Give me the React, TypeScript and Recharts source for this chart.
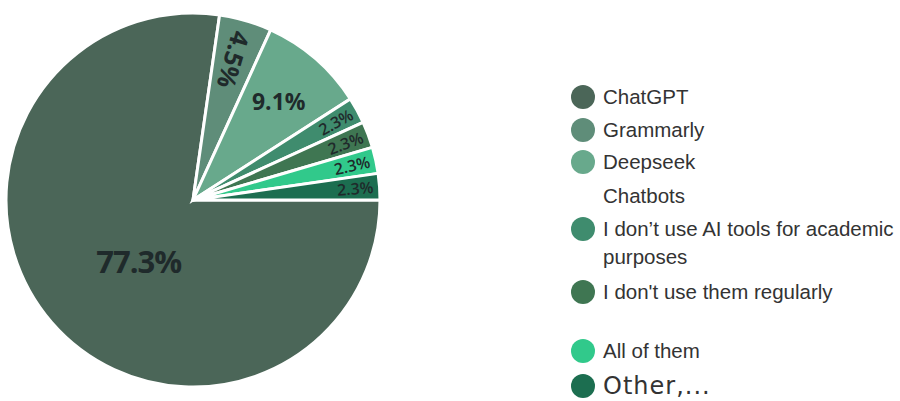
import React from 'react';
import { PieChart, Pie, Cell, Legend } from 'recharts';

const categories = [
  'ChatGPT',
  'Grammarly',
  'Deepseek',
  'Chatbots',
  'I don’t use AI tools for academic purposes',
  "I don't use them regularly",
  'All of them',
  'Other,...',
];
const counts = [34, 2, 4, 0, 1, 1, 1, 1];
const colors = ['#4b6658', '#5f8d79', '#68a98c', 'transparent', '#3f8c6e', '#3f7652', '#31c98b', '#1c6e50'];

const data = categories.map((name, i) => ({ name, value: counts[i] }));
const total = counts.reduce((a, b) => a + b, 0);

const RAD = Math.PI / 180;

const renderLabel = (props: any) => {
  const { cx, cy, midAngle, outerRadius, value } = props;
  if (!value) return null;
  const pct = value / total;
  const text = (pct * 100).toFixed(1) + '%';
  let mid = ((midAngle % 360) + 360) % 360;
  if (mid > 180) mid -= 360;
  let rf = 0.45;
  let rot = 0;
  let size = 32;
  let weight: any = 'bold';
  if (pct > 0.5) {
    rf = 0.44; size = 31;
  } else if (pct > 0.06) {
    rf = 0.7; size = 23;
  } else if (pct > 0.035) {
    rf = 0.78; size = 25; rot = 180 - mid;
  } else {
    rf = 0.87; size = 16; rot = -mid; weight = 600;
  }
  const r = outerRadius * rf;
  const x = cx + r * Math.cos(-mid * RAD);
  const y = cy + r * Math.sin(-mid * RAD);
  const tx = pct > 0.5 ? x + 8 : x;
  const ty = pct > 0.5 ? y + 7 : y;
  return (
    <text
      x={tx}
      y={ty}
      textAnchor="middle"
      dominantBaseline="central"
      transform={`rotate(${rot} ${tx} ${ty})`}
      fontFamily="'Open Sans', 'Noto Sans', sans-serif"
      fontSize={size}
      fontWeight={weight}
      fill="#1f2a2b"
      letterSpacing={pct > 0.5 ? -1 : 0}
    >
      {text}
    </text>
  );
};

const rowCenters = [97, 130, 162, 196, 229, 292, 351, 386];

const LegendBox = () => (
  <div style={{ position: 'relative', width: 330, height: 401 }}>
    {categories.map((name, i) => {
      const isOther = i === categories.length - 1;
      const c = rowCenters[i];
      return (
        <div key={name} style={{ position: 'absolute', left: 0, top: c - 12, display: 'flex', alignItems: 'flex-start' }}>
          <div
            style={{
              width: 24,
              height: 24,
              borderRadius: 12,
              background: colors[i],
              flex: '0 0 auto',
            }}
          />
          <div
            style={{
              marginLeft: 8,
              width: 300,
              fontFamily: isOther ? "'DejaVu Sans', 'Noto Sans', sans-serif" : "'Liberation Sans', Arial, sans-serif",
              fontSize: isOther ? 24 : 20.5,
              letterSpacing: isOther ? 1 : 0,
              lineHeight: isOther ? '24px' : '28px',
              marginTop: isOther ? 0 : -2,
              color: '#333333',
              whiteSpace: 'normal',
            }}
          >
            {name}
          </div>
        </div>
      );
    })}
  </div>
);

export default function App() {
  return (
    <div style={{ position: 'absolute', left: 0, top: 0, width: 900, height: 401, background: '#ffffff', overflow: 'hidden' }}>
      <PieChart width={900} height={401} margin={{ top: 0, right: 0, bottom: 0, left: 0 }}>
        <Pie
          data={data}
          dataKey="value"
          nameKey="name"
          cx={193}
          cy={200}
          outerRadius={187}
          startAngle={0}
          endAngle={-360}
          stroke="#ffffff"
          strokeWidth={3}
          label={renderLabel}
          labelLine={false}
          isAnimationActive={false}
        >
          {data.map((d, i) => (
            <Cell key={d.name} fill={colors[i]} />
          ))}
        </Pie>
        <Legend
          content={() => <LegendBox />}
          wrapperStyle={{ position: 'absolute', left: 571, top: 0, width: 330, height: 401 }}
        />
      </PieChart>
    </div>
  );
}
